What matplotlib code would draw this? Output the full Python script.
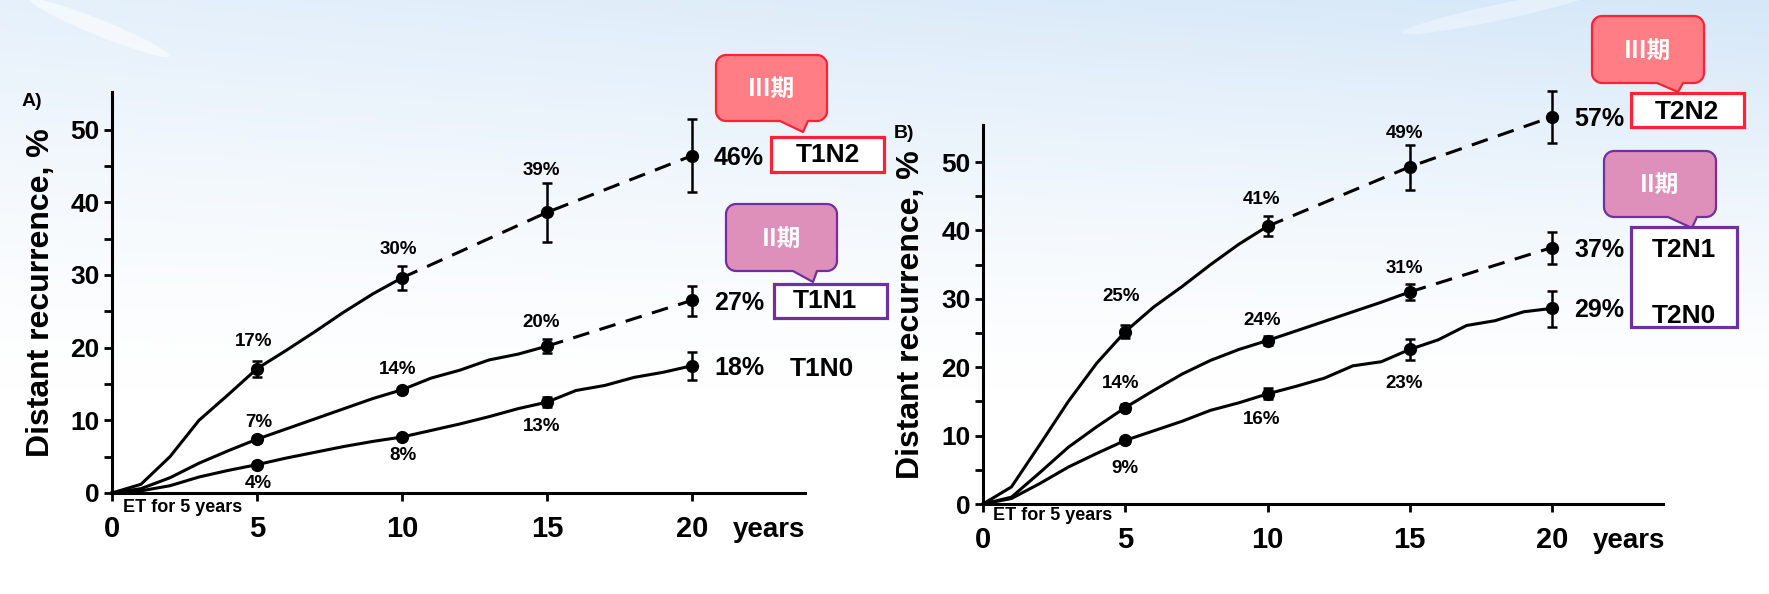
import numpy as np
import matplotlib
matplotlib.use("Agg")
import matplotlib.pyplot as plt
from matplotlib.patches import Polygon, Rectangle, Ellipse

plt.rcParams['font.family'] = ['Liberation Sans', 'DejaVu Sans']
plt.rcParams['font.weight'] = 'bold'

# ------------------------- data -------------------------
marker_years = [5, 10, 15, 20]
label_years = [5, 10, 15]

# Panel A (T1)
a_names = ["T1N2", "T1N1", "T1N0"]
a_x = [
    [0, 1, 2, 3, 4, 5, 6, 7, 8, 9, 10, 15, 20],
    [0, 1, 2, 3, 4, 5, 6, 7, 8, 9, 10, 11, 12, 13, 14, 15, 20],
    list(range(0, 21)),
]
a_y = [
    [0, 1.2, 5.0, 10.0, 13.5, 17.1, 19.6, 22.2, 24.9, 27.4, 29.6, 38.6, 46.4],
    [0, 0.6, 2.1, 4.1, 5.8, 7.4, 8.8, 10.2, 11.6, 13.0, 14.2, 15.8, 16.9, 18.3, 19.1, 20.2, 26.5],
    [0, 0.3, 1.0, 2.2, 3.1, 3.9, 4.8, 5.6, 6.4, 7.1, 7.7, 8.6, 9.5, 10.5, 11.6, 12.5,
     14.1, 14.8, 15.9, 16.6, 17.5],
]
a_dash_from = [10, 15, None]
a_mark = [[17.1, 29.6, 38.6, 46.4], [7.4, 14.2, 20.2, 26.5], [3.9, 7.7, 12.5, 17.5]]
a_err_lo = [[16.0, 27.9, 34.5, 41.4], [7.0, 13.8, 19.2, 24.3], [3.6, 7.4, 11.8, 15.5]]
a_err_hi = [[18.2, 31.2, 42.6, 51.4], [7.8, 14.6, 21.2, 28.5], [4.2, 8.0, 13.2, 19.4]]
a_labels = [["17%", "30%", "39%"], ["7%", "14%", "20%"], ["4%", "8%", "13%"]]
a_end_labels = ["46%", "27%", "18%"]

# Panel B (T2)
b_names = ["T2N2", "T2N1", "T2N0"]
b_x = [
    [0, 1, 2, 3, 4, 5, 6, 7, 8, 9, 10, 15, 20],
    [0, 1, 2, 3, 4, 5, 6, 7, 8, 9, 10, 11, 12, 13, 14, 15, 20],
    list(range(0, 21)),
]
b_y = [
    [0, 2.5, 8.7, 15.0, 20.6, 25.2, 28.8, 31.8, 35.0, 38.0, 40.6, 49.3, 56.6],
    [0, 1.0, 4.6, 8.3, 11.3, 14.1, 16.6, 19.0, 21.0, 22.6, 23.9, 25.3, 26.7, 28.1, 29.5, 31.0, 37.5],
    [0, 0.8, 3.0, 5.4, 7.4, 9.3, 10.7, 12.1, 13.7, 14.8, 16.1, 17.2, 18.4, 20.2, 20.8, 22.6,
     24.0, 26.1, 26.8, 28.1, 28.6],
]
b_dash_from = [10, 15, None]
b_mark = [[25.2, 40.6, 49.3, 56.6], [14.1, 23.9, 31.0, 37.5], [9.3, 16.1, 22.6, 28.6]]
b_err_lo = [[24.2, 39.2, 45.9, 52.8], [13.6, 23.2, 29.8, 35.1], [8.9, 15.3, 21.1, 25.9]]
b_err_hi = [[26.2, 42.1, 52.5, 60.4], [14.6, 24.6, 32.2, 39.8], [9.7, 16.9, 24.1, 31.2]]
b_labels = [["25%", "41%", "49%"], ["14%", "24%", "31%"], ["9%", "16%", "23%"]]
b_end_labels = ["57%", "37%", "29%"]

x_ticks = [0, 5, 10, 15, 20]
y_ticks = [0, 10, 20, 30, 40, 50]
y_label = "Distant recurrence, %"
x_unit = "years"
et_note = "ET for 5 years"

# ------------------------- layout -------------------------
W, H = 1769, 594
DPI = 100
fig = plt.figure(figsize=(W / DPI, H / DPI), dpi=DPI)

# background gradient
bg = fig.add_axes([0, 0, 1, 1], zorder=-10)
yy, xx = np.mgrid[0:H, 0:W]
t = np.clip(1 - yy / 390.0, 0, 1) ** 1.3 * (0.6 + 0.4 * xx / W)
img = np.ones((H, W, 3))
img[..., 0] -= t * 42 / 255
img[..., 1] -= t * 24 / 255
img[..., 2] -= t * 7 / 255
bg.imshow(img, extent=(0, W, H, 0), aspect='auto')
bg.add_patch(Ellipse((100, 28), 150, 16, angle=22, color='white', alpha=0.55, lw=0))
bg.add_patch(Ellipse((1500, 12), 200, 16, angle=-12, color='white', alpha=0.35, lw=0))
bg.set_xlim(0, W)
bg.set_ylim(H, 0)
bg.axis('off')


def px_axes(x0, x1, ybot, ytop):
    return fig.add_axes([x0 / W, (H - ybot) / H, (x1 - x0) / W, (ybot - ytop) / H])


panels = [
    dict(x0=112, sx=29.0, y0=493, sy=7.27, ytop=55.2,
         names=a_names, xs=a_x, ys=a_y, dash=a_dash_from, mark=a_mark, lo=a_err_lo, hi=a_err_hi,
         labels=a_labels, ends=a_end_labels,
         lab_dx=[[-0.1, -0.14, -0.2], [0.07, -0.14, -0.2], [0.05, 0.03, -0.2]],
         lab_y=[[20.9, 33.5, 44.4], [9.7, 17.0, 23.5], [1.3, 5.1, 9.1]],
         ylab_x=-0.103, et_px=(123, 508), letter="A)", letter_px=(22, 102)),
    dict(x0=983, sx=28.45, y0=504, sy=6.84, ytop=55.4,
         names=b_names, xs=b_x, ys=b_y, dash=b_dash_from, mark=b_mark, lo=b_err_lo, hi=b_err_hi,
         labels=b_labels, ends=b_end_labels,
         lab_dx=[[-0.15, -0.2, -0.2], [-0.15, -0.2, -0.2], [0.0, -0.2, -0.2]],
         lab_y=[[30.4, 44.5, 54.2], [17.6, 26.9, 34.5], [5.2, 12.3, 17.6]],
         ylab_x=-0.106, et_px=(993, 516), letter="B)", letter_px=(894, 133)),
]

XMAX = 23.9
LW = 2.2
for p in panels:
    ax = px_axes(p['x0'], p['x0'] + XMAX * p['sx'], p['y0'], p['y0'] - p['ytop'] * p['sy'])
    ax.set_facecolor('none')
    ax.set_xlim(0, XMAX)
    ax.set_ylim(0, p['ytop'])
    for s in ['top', 'right']:
        ax.spines[s].set_visible(False)
    for s in ['left', 'bottom']:
        ax.spines[s].set_linewidth(LW)
    ax.set_xticks(x_ticks)
    ax.set_xticklabels([str(v) for v in x_ticks], fontsize=21, fontweight='bold')
    ax.set_yticks(y_ticks)
    ax.set_yticklabels([str(v) for v in y_ticks], fontsize=19, fontweight='bold')
    ax.set_yticks(np.arange(5, 55, 10), minor=True)
    ax.tick_params(axis='both', which='both', direction='out', length=6, width=2)
    ax.tick_params(axis='x', pad=10)
    ax.tick_params(axis='y', pad=3)

    for i in range(3):
        xs = np.array(p['xs'][i], dtype=float)
        ys = np.array(p['ys'][i], dtype=float)
        d = p['dash'][i]
        if d is None:
            ax.plot(xs, ys, color='black', lw=LW, solid_joinstyle='round', clip_on=False)
        else:
            m = xs <= d
            ax.plot(xs[m], ys[m], color='black', lw=LW, solid_joinstyle='round', clip_on=False)
            m2 = xs >= d
            ax.plot(xs[m2], ys[m2], color='black', lw=LW, linestyle=(0, (5.5, 3.5)), clip_on=False)
        mv = np.array(p['mark'][i])
        lo = mv - np.array(p['lo'][i])
        hi = np.array(p['hi'][i]) - mv
        ax.errorbar(marker_years, mv, yerr=[lo, hi], fmt='o', color='black', ms=8.5,
                    elinewidth=1.8, capsize=3.5, capthick=1.8, clip_on=False, zorder=5)
        for j, yr in enumerate(label_years):
            ax.text(yr + p['lab_dx'][i][j], p['lab_y'][i][j], p['labels'][i][j],
                    ha='center', va='center', fontsize=13.5, fontweight='bold')
        ax.text(20 + 22 / p['sx'], mv[-1] - 0.3, p['ends'][i], ha='left', va='center',
                fontsize=18, fontweight='bold')

    ax.text(p['ylab_x'], 0.5, y_label, rotation=90, ha='center', va='center',
            transform=ax.transAxes, fontsize=23, fontweight='bold')
    ax.text(20 + 41 / p['sx'], -37 / (p['ytop'] * p['sy']), x_unit,
            transform=ax.get_xaxis_transform(),
            ha='left', va='center', fontsize=20, fontweight='bold')

# ------------------------- overlay (pixel coords) -------------------------
ov = fig.add_axes([0, 0, 1, 1], zorder=10)
ov.set_xlim(0, W)
ov.set_ylim(H, 0)
ov.axis('off')

for p in panels:
    ov.text(p['et_px'][0], p['et_px'][1], et_note, ha='left', va='center', fontsize=13,
            fontweight='bold')
    ov.text(p['letter_px'][0], p['letter_px'][1], p['letter'], ha='left', va='center',
            fontsize=14, fontweight='bold')


def callout(x0, y0, x1, y1, b0, tip, b1, fc, ec, text, r=10):
    pts = []

    def arc(cx, cy, a0, a1):
        for a in np.linspace(np.radians(a0), np.radians(a1), 10):
            pts.append((cx + r * np.cos(a), cy + r * np.sin(a)))
    arc(x1 - r, y0 + r, -90, 0)
    arc(x1 - r, y1 - r, 0, 90)
    pts.append((b1, y1))
    pts.append(tip)
    pts.append((b0, y1))
    arc(x0 + r, y1 - r, 90, 180)
    arc(x0 + r, y0 + r, 180, 270)
    ov.add_patch(Polygon(pts, closed=True, fc=fc, ec=ec, lw=1.6, joinstyle='round'))
    ov.text((x0 + x1) / 2, (y0 + y1) / 2 + 1, text, ha='center', va='center', color='white',
            fontsize=17, fontweight='bold', family=['Noto Sans CJK SC', 'DejaVu Sans'])


RED_FC, RED_EC = '#FF7E86', '#FF2236'
PUR_FC, PUR_EC = '#DE8FBA', '#7030A0'

callout(716, 55, 827, 121, 780, (803, 132), 808, RED_FC, RED_EC, "III期")
callout(726, 204, 837, 271, 793, (813, 282), 817, PUR_FC, PUR_EC, "II期")
callout(1592, 16, 1704, 83, 1657, (1678, 92), 1683, RED_FC, RED_EC, "III期")
callout(1604, 151, 1716, 217, 1668, (1692, 228), 1697, PUR_FC, PUR_EC, "II期")


def box(x0, y0, x1, y1, ec):
    ov.add_patch(Rectangle((x0, y0), x1 - x0, y1 - y0, fc='white', ec='none', zorder=1))
    ov.add_patch(Rectangle((x0, y0), x1 - x0, y1 - y0, fc='none', ec=ec, lw=2.3, zorder=3))


box(771, 137, 884, 172, RED_EC)
box(774, 284, 887, 318, PUR_EC)
box(1631, 93, 1744, 127, RED_EC)
box(1631, 227, 1737, 327, PUR_EC)

name_pos = [(828, 155), (825, 301), (822, 369), (1687, 112), (1684, 250), (1684, 316)]
for name, (x, y) in zip(a_names + b_names, name_pos):
    ov.text(x, y, name, ha='center', va='center', fontsize=19, fontweight='bold', zorder=2)

fig.savefig("out.png", dpi=DPI)
